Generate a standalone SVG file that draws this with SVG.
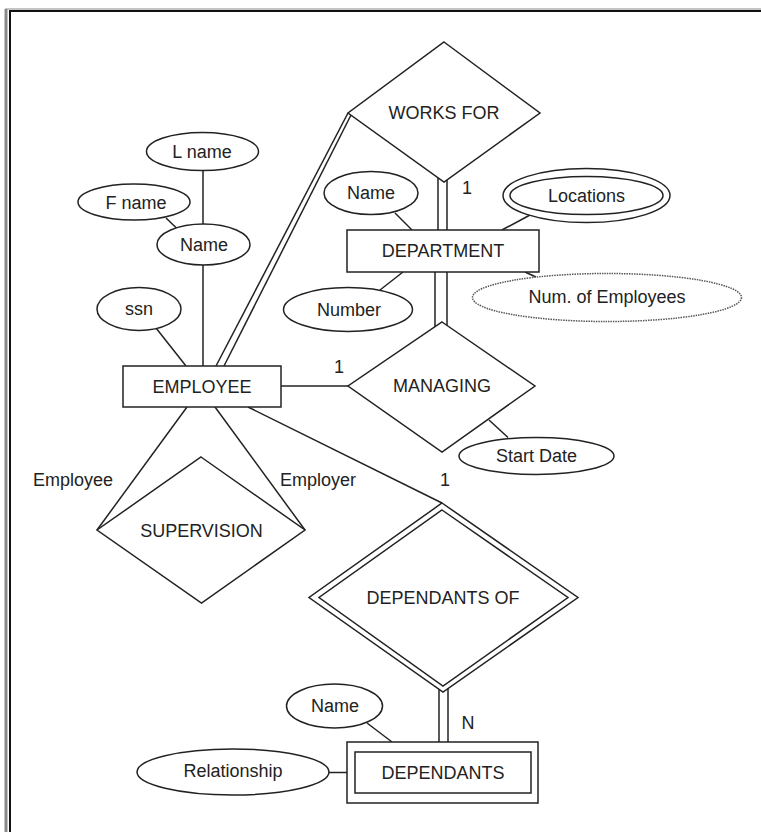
<svg xmlns="http://www.w3.org/2000/svg" width="761" height="832" viewBox="0 0 761 832">
<style>
.s{fill:#fff;stroke:#222;stroke-width:1.5}
.l{stroke:#222;stroke-width:1.5;fill:none}
.d{fill:#fff;stroke:#555;stroke-width:1.5;stroke-dasharray:1.5 1}
text{font-family:"Liberation Sans",Arial,sans-serif;font-size:18px;fill:#222;text-anchor:middle;dominant-baseline:central}
</style>
<rect width="761" height="832" fill="#fff"/>
<g id="frame">
<line x1="6" y1="9" x2="6" y2="832" stroke="#8a8a8a" stroke-width="3"/>
<line x1="10" y1="10" x2="10" y2="832" stroke="#111" stroke-width="2"/>
<line x1="5" y1="9" x2="761" y2="9" stroke="#8a8a8a" stroke-width="1"/>
<line x1="9" y1="11" x2="761" y2="11" stroke="#111" stroke-width="2"/>
</g>
<g id="connectors">
<line class="l" x1="203" y1="170" x2="203" y2="224"/>
<line class="l" x1="166" y1="218" x2="177" y2="228.5"/>
<line class="l" x1="203" y1="265" x2="203" y2="366"/>
<line class="l" x1="156" y1="328" x2="186" y2="366"/>
<line class="l" x1="348" y1="113" x2="216" y2="366"/>
<line class="l" x1="351" y1="115" x2="224" y2="366"/>
<line class="l" x1="438" y1="175" x2="438" y2="232"/>
<line class="l" x1="447" y1="175" x2="447" y2="232"/>
<line class="l" x1="435" y1="270" x2="435" y2="330"/>
<line class="l" x1="447" y1="270" x2="447" y2="330"/>
<line class="l" x1="395" y1="213" x2="412" y2="230"/>
<line class="l" x1="530" y1="215" x2="502" y2="230"/>
<line class="l" x1="380" y1="290" x2="403" y2="272"/>
<line class="l" x1="525" y1="272" x2="536" y2="277"/>
<line class="l" x1="281" y1="386" x2="348" y2="386"/>
<line class="l" x1="489" y1="420" x2="508" y2="437.5"/>
<line class="l" x1="187" y1="407" x2="97" y2="530"/>
<line class="l" x1="215" y1="407" x2="305" y2="530"/>
<line class="l" x1="248" y1="407" x2="442" y2="503"/>
<line class="l" x1="439" y1="688" x2="439" y2="742"/>
<line class="l" x1="448" y1="688" x2="448" y2="742"/>
<line class="l" x1="367" y1="723" x2="392" y2="742"/>
<line class="l" x1="329" y1="772.5" x2="347" y2="772.5"/>
</g>
<g id="labels">
<text x="467" y="188">1</text>
<text x="339" y="367">1</text>
<text x="73" y="480">Employee</text>
<text x="318" y="480">Employer</text>
<text x="445" y="480">1</text>
<text x="468" y="723">N</text>
</g>
<g id="works_for"><polygon class="s" points="444,42 540,113 444,182 348,113"/><text x="444" y="113">WORKS FOR</text></g>
<g id="department"><rect class="s" x="347" y="230" width="192" height="42"/><text x="443" y="251">DEPARTMENT</text></g>
<g id="dept_name"><ellipse class="s" cx="371" cy="193" rx="47" ry="21.5"/><text x="371" y="193">Name</text></g>
<g id="locations"><ellipse class="s" cx="586.5" cy="195.5" rx="83.5" ry="27"/><ellipse class="s" cx="586.5" cy="195.5" rx="76.5" ry="19"/><text x="586.5" y="195.5">Locations</text></g>
<g id="num_employees"><ellipse class="d" cx="607" cy="297.5" rx="134.5" ry="24"/><text x="607" y="297">Num. of Employees</text></g>
<g id="number"><ellipse class="s" cx="348" cy="309.5" rx="64.5" ry="22"/><text x="349" y="309.5">Number</text></g>
<g id="managing"><polygon class="s" points="442,322 535,386 442,452 348,386"/><text x="442" y="386">MANAGING</text></g>
<g id="start_date"><ellipse class="s" cx="536.5" cy="456" rx="77.5" ry="18.5"/><text x="536.5" y="456">Start Date</text></g>
<g id="employee"><rect class="s" x="123" y="366" width="158" height="41"/><text x="202" y="386.5">EMPLOYEE</text></g>
<g id="ssn"><ellipse class="s" cx="139" cy="309" rx="42" ry="21.5"/><text x="139" y="309">ssn</text></g>
<g id="l_name"><ellipse class="s" cx="202.5" cy="151.5" rx="56" ry="19"/><text x="202" y="152">L name</text></g>
<g id="f_name"><ellipse class="s" cx="134" cy="202" rx="56" ry="18"/><text x="136" y="203">F name</text></g>
<g id="emp_name"><ellipse class="s" cx="203.5" cy="244.5" rx="46.5" ry="20.5"/><text x="204" y="244.5">Name</text></g>
<g id="supervision"><polygon class="s" points="201,457 305,530 201.5,603 97,530"/><text x="201.5" y="530.5">SUPERVISION</text></g>
<g id="dependants_of"><polygon class="s" points="442,503 578,597.5 443,692 309,597.5"/><polygon class="s" points="442,510 568,597.5 443,686 319,597.5"/><text x="443" y="598">DEPENDANTS OF</text></g>
<g id="dependants"><rect class="s" x="347" y="742" width="191" height="61"/><rect class="s" x="355" y="752" width="176" height="41"/><text x="443" y="772.5">DEPENDANTS</text></g>
<g id="dep_name"><ellipse class="s" cx="334.5" cy="706" rx="48" ry="22"/><text x="335" y="706">Name</text></g>
<g id="relationship"><ellipse class="s" cx="233" cy="772" rx="96" ry="23"/><text x="233" y="771">Relationship</text></g>
</svg>
